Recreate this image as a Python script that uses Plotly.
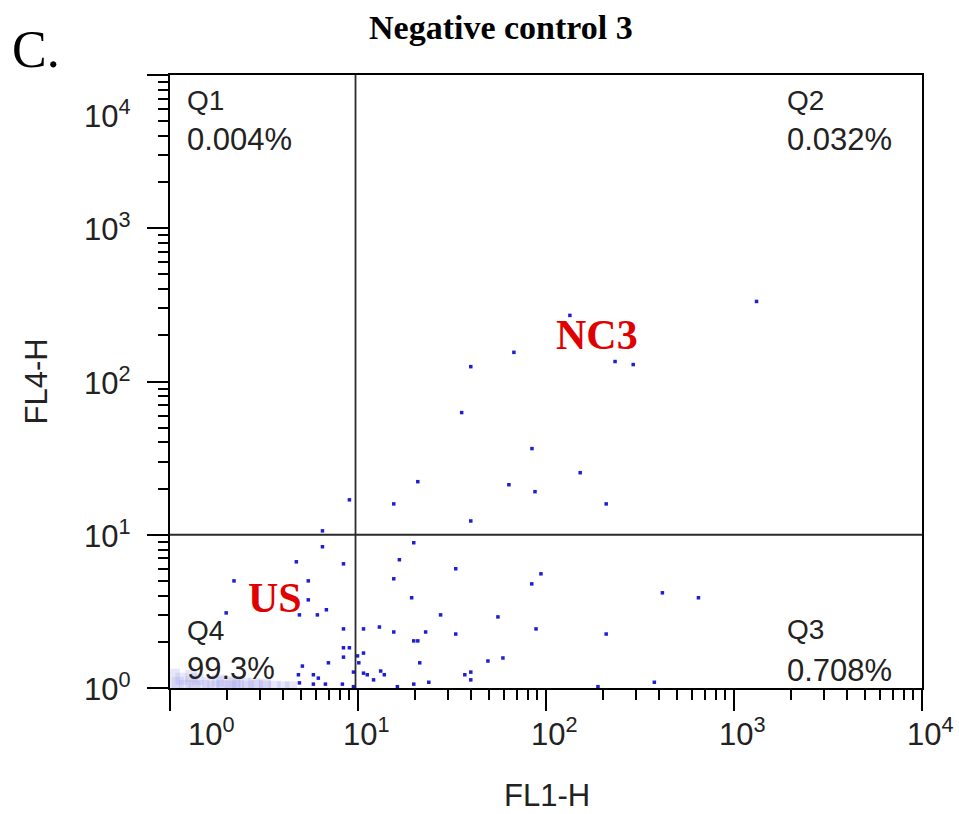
import plotly.graph_objects as go

# ---- data ----
fl1_events = [1318, 134, 67.5, 39.8, 233, 291, 35.6, 84.2, 152, 20.8, 63.5, 87.4, 15.5, 209, 39.8,
              9.0,
              6.47, 6.47, 19.8, 4.70, 16.6, 8.37, 33.1, 94, 2.19, 5.44, 15.5, 84, 19.3, 5.44,
              1.99, 4.88, 6.08, 6.79, 27.5, 55.5, 416, 647, 8.37, 10.7, 13.0, 15.5, 22.9, 33.1,
              88.5, 209, 19.8, 20.8, 8.37, 9.0, 8.37, 10.7, 9.94, 10.1, 5.06, 6.96, 49.1, 59,
              9.46, 10.7, 11.2, 13.2, 13.8, 21.3, 4.82, 5.79, 6.15, 37, 39.8, 39.8, 23.8, 12.1,
              4.88, 5.79, 6.71, 8.26, 9.46, 16.2, 19.8, 377, 189]
fl4_events = [333, 270, 155, 125, 135, 129, 62.7, 36.5, 25.4, 22.2, 21.2, 19.1, 15.9, 15.9, 12.3,
              16.9,
              10.6, 8.35, 8.87, 6.66, 6.87, 6.46, 6.0, 5.56, 5.0, 5.0, 5.16, 4.78, 3.88, 3.76,
              3.09, 3.0, 3.0, 3.24, 3.0, 2.91, 4.18, 3.88, 2.43, 2.43, 2.50, 2.32, 2.32, 2.25,
              2.43, 2.25, 2.03, 2.03, 1.83, 1.83, 1.59, 1.69, 1.62, 1.46, 1.39, 1.46, 1.50, 1.57,
              1.27, 1.25, 1.22, 1.29, 1.22, 1.46, 1.22, 1.22, 1.16, 1.22, 1.27, 1.13, 1.09, 1.13,
              1.08, 1.06, 1.06, 1.06, 1.02, 1.02, 1.06, 1.09, 1.02]

# dense low-signal population (unstained cells)
fl1_dense = [1.05, 1.2, 1.35, 1.5, 1.7, 1.9, 2.1, 2.3, 2.6, 2.9, 3.2, 3.6, 4.0, 4.4,
             1.1, 1.3, 1.6, 1.9, 2.2, 2.5, 2.8, 3.2, 1.15, 1.4, 1.8, 2.2, 1.05, 1.3]
fl4_dense = [1.02, 1.03, 1.02, 1.03, 1.02, 1.03, 1.02, 1.03, 1.02, 1.03, 1.02, 1.02, 1.01, 1.01,
             1.08, 1.09, 1.08, 1.09, 1.07, 1.07, 1.06, 1.05, 1.15, 1.14, 1.12, 1.10, 1.22, 1.20]

gate_fl1 = 9.7
gate_fl4 = 10.0
axis_min, axis_max = 1, 10000

tick_vals = [1, 10, 100, 1000, 10000]
tick_exps = [0, 1, 2, 3, 4]
tick_text = ["10<sup>0</sup>", "10<sup>1</sup>", "10<sup>2</sup>", "10<sup>3</sup>", "10<sup>4</sup>"]
minor_vals = [k * 10 ** d for d in range(4) for k in range(2, 10)]

quad_names = ["Q1", "Q2", "Q3", "Q4"]
quad_pcts = ["0.004%", "0.032%", "0.708%", "99.3%"]

title_text = "Negative control 3"
panel_letter = "C."
x_title = "FL1-H"
y_title = "FL4-H"

# ---- figure ----
fig = go.Figure()
fig.add_trace(go.Scatter(x=fl1_dense, y=fl4_dense, mode="markers",
                         marker=dict(symbol="square", size=12, color="rgba(160,160,230,0.25)",
                                     line=dict(width=0)),
                         hoverinfo="skip", showlegend=False))
fig.add_trace(go.Scatter(x=fl1_events, y=fl4_events, mode="markers",
                         marker=dict(symbol="square", size=3.5, color="rgb(30,30,210)",
                                     line=dict(width=0)),
                         showlegend=False))
# quadrant gates
fig.add_trace(go.Scatter(x=[gate_fl1, gate_fl1], y=[axis_min, axis_max], mode="lines",
                         line=dict(color="#2a2a2a", width=1.8), hoverinfo="skip", showlegend=False))
fig.add_trace(go.Scatter(x=[axis_min, axis_max], y=[gate_fl4, gate_fl4], mode="lines",
                         line=dict(color="#2a2a2a", width=1.8), hoverinfo="skip", showlegend=False))

axis_common = dict(type="log", range=[0, 4], showgrid=False, zeroline=False,
                   showline=True, linecolor="black", linewidth=2, mirror=True,
                   ticks="outside", ticklen=21, tickwidth=2, tickcolor="black",
                   tickmode="array", tickvals=tick_vals, showticklabels=False,
                   minor=dict(ticks="outside", ticklen=10, tickwidth=2, tickcolor="black",
                              tickmode="array", tickvals=minor_vals, showgrid=False))
fig.update_xaxes(**axis_common)
fig.update_yaxes(**axis_common)

sans = "Liberation Sans, Arial, sans-serif"
serif = "Liberation Serif, Times New Roman, serif"
ann = []
# x tick labels
for i, (e, t) in enumerate(zip(tick_exps, tick_text)):
    ann.append(dict(x=e, y=0, xref="x", yref="paper", text=t, showarrow=False,
                    xanchor="center", yanchor="top", xshift=(41 if i == 0 else 8), yshift=-22,
                    font=dict(family=sans, size=31, color="#222222")))
# y tick labels
for i, (e, t) in enumerate(zip(tick_exps, tick_text)):
    ann.append(dict(x=0, y=e, xref="paper", yref="y", text=t, showarrow=False,
                    xanchor="right", yanchor="middle", xshift=-37,
                    yshift=(-39 if i == len(tick_exps) - 1 else 1),
                    font=dict(family=sans, size=31, color="#222222")))
# quadrant labels
q_pos = {"Q1": (0.020, 0.959, 0.894), "Q2": (0.818, 0.959, 0.894),
         "Q3": (0.818, 0.096, 0.029), "Q4": (0.020, 0.093, 0.031)}
for name, pct in zip(quad_names, quad_pcts):
    qx, qy1, qy2 = q_pos[name]
    ann.append(dict(x=qx, y=qy1, xref="paper", yref="paper", text=name, showarrow=False,
                    xanchor="left", yanchor="middle", font=dict(family=sans, size=28, color="#222222")))
    ann.append(dict(x=qx, y=qy2, xref="paper", yref="paper", text=pct, showarrow=False,
                    xanchor="left", yanchor="middle", font=dict(family=sans, size=31, color="#222222")))
# population labels
ann.append(dict(x=0.568, y=0.576, xref="paper", yref="paper", text="<b>NC3</b>", showarrow=False,
                xanchor="center", yanchor="middle", font=dict(family=serif, size=42, color="#e00000")))
ann.append(dict(x=0.140, y=0.147, xref="paper", yref="paper", text="<b>US</b>", showarrow=False,
                xanchor="center", yanchor="middle", font=dict(family=serif, size=42, color="#e00000")))
# titles
ann.append(dict(x=0.440, y=1.078, xref="paper", yref="paper", text="<b>" + title_text + "</b>",
                showarrow=False, xanchor="center", yanchor="middle",
                font=dict(family=serif, size=34, color="black")))
ann.append(dict(x=-0.213, y=1.041, xref="paper", yref="paper", text=panel_letter, showarrow=False,
                xanchor="left", yanchor="middle", font=dict(family=serif, size=52, color="black")))
ann.append(dict(x=0.501, y=-0.1746, xref="paper", yref="paper", text=x_title, showarrow=False,
                xanchor="center", yanchor="middle", font=dict(family=sans, size=31, color="#222222")))
ann.append(dict(x=-0.177, y=0.5, xref="paper", yref="paper", text=y_title, showarrow=False,
                textangle=-90, xanchor="center", yanchor="middle",
                font=dict(family=sans, size=31, color="#222222")))

fig.update_layout(width=959, height=814, margin=dict(l=170, r=37, t=75, b=126),
                  paper_bgcolor="white", plot_bgcolor="white", annotations=ann,
                  showlegend=False)
fig.write_html("out.html")
